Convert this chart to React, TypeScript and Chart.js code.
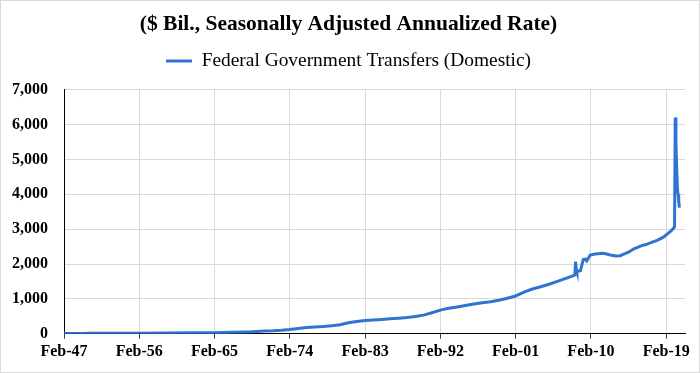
import React, { useEffect, useRef } from "react";
import { Chart, registerables, layouts } from "chart.js";

Chart.register(...registerables);

const titleText = "($ Bil., Seasonally Adjusted Annualized Rate)";
const seriesName = "Federal Government Transfers (Domestic)";

const months = [
  "1947-02", "1949-02", "1950-02", "1953-02", "1956-02", "1959-02", "1962-02", "1965-02",
  "1967-02", "1969-02", "1970-02", "1971-02", "1972-02", "1973-02", "1974-02", "1975-02",
  "1976-02", "1977-02", "1978-02", "1979-02", "1980-02", "1981-02", "1982-02", "1983-02",
  "1984-02", "1985-02", "1986-02", "1987-02", "1988-02", "1989-02", "1990-02", "1991-02",
  "1992-02", "1993-02", "1994-02", "1995-02", "1996-02", "1997-02", "1998-02", "1999-02",
  "2000-02", "2001-02", "2002-02", "2003-02", "2004-02", "2005-02", "2006-02", "2007-02",
  "2008-01", "2008-03", "2008-04", "2008-05", "2008-06", "2008-11", "2009-03", "2009-06",
  "2009-08", "2010-01", "2010-08", "2011-08", "2012-06", "2013-02", "2013-08", "2014-02",
  "2014-08", "2015-03", "2016-02", "2016-09", "2017-06", "2018-01", "2018-10", "2019-06",
  "2019-10", "2020-01", "2020-02", "2020-03", "2020-04", "2020-05", "2020-06", "2020-07",
  "2020-08", "2020-09",
];

const transfers = [
  11, 12, 14, 13, 17, 24, 30, 33,
  42, 55, 64, 78, 86, 100, 122, 155,
  182, 198, 212, 232, 262, 318, 350, 382,
  395, 412, 432, 448, 468, 495, 535, 605,
  680, 735, 770, 810, 855, 890, 922, 960,
  1020, 1085, 1195, 1285, 1350, 1420, 1505, 1590,
  1665, 1690, 2070, 1850, 1780, 1810, 2130, 2140,
  2090, 2260, 2290, 2310, 2260, 2230, 2240, 2290,
  2340, 2430, 2520, 2560, 2630, 2680, 2770, 2900,
  2970, 3040, 3080, 6200, 5500, 4800, 4200, 4000,
  3800, 3620,
];

const tickLabels = [
  "Feb-47", "Feb-56", "Feb-65", "Feb-74", "Feb-83", "Feb-92", "Feb-01", "Feb-10", "Feb-19",
];

const axisStart = "1947-02";
const axisEnd = "2021-05";
const tickStepMonths = 108;

function monthIndex(s: string): number {
  const [y, m] = s.split("-").map(Number);
  const [y0, m0] = axisStart.split("-").map(Number);
  return (y - y0) * 12 + (m - m0);
}

const FONT = "'Liberation Serif', 'Times New Roman', serif";

const spacerPlugin = {
  id: "legendSpacer",
  beforeInit(chart: any) {
    const box: any = {
      id: "legendSpacerBox",
      position: "top",
      weight: 0,
      fullSize: true,
      options: { stackWeight: 1 },
      top: 0,
      left: 0,
      right: 0,
      bottom: 0,
      width: 0,
      height: 0,
      update(maxWidth: number) {
        this.width = maxWidth;
        this.height = 9;
      },
      isHorizontal() {
        return true;
      },
      draw() {},
    };
    layouts.addBox(chart, box);
  },
};

export default function App() {
  const ref = useRef<HTMLCanvasElement | null>(null);

  useEffect(() => {
    document.body.style.margin = "0";
    if (!ref.current) return;
    const points = months.map((m, i) => ({ x: monthIndex(m), y: transfers[i] }));
    const chart = new Chart(ref.current, {
      type: "line",
      data: {
        datasets: [
          {
            label: seriesName,
            data: points,
            borderColor: "#2e74d0",
            backgroundColor: "#2e74d0",
            borderWidth: 3,
            pointRadius: 0,
            tension: 0,
            fill: false,
          },
        ],
      },
      plugins: [spacerPlugin],
      options: {
        responsive: false,
        animation: false,
        devicePixelRatio: 1,
        layout: { padding: { left: 12, right: 15, top: 0, bottom: 9 } },
        plugins: {
          title: {
            display: true,
            text: titleText,
            color: "#000",
            font: { family: FONT, size: 21.5, weight: "bold" },
            padding: { top: 12, bottom: 3.5 },
          },
          legend: {
            display: true,
            position: "top",
            labels: {
              color: "#000",
              font: { family: FONT, size: 19.4 },
              usePointStyle: true,
              pointStyle: "line",
              pointStyleWidth: 26,
              boxHeight: 19,
              padding: 10,
            },
          },
          tooltip: { enabled: false },
        },
        scales: {
          x: {
            type: "linear",
            min: 0,
            max: monthIndex(axisEnd),
            afterBuildTicks: (scale: any) => {
              scale.ticks = tickLabels.map((_, i) => ({ value: i * tickStepMonths }));
            },
            ticks: {
              autoSkip: false,
              maxRotation: 0,
              color: "#000",
              font: { family: FONT, size: 16, weight: "bold" },
              padding: 3,
              callback: (v: any) => {
                const i = Math.round(Number(v) / tickStepMonths);
                return tickLabels[i] ?? "";
              },
            },
            grid: {
              color: "#d9d9d9",
              lineWidth: 1,
              drawTicks: true,
              tickLength: 5,
              tickColor: "#404040",
            },
            border: { color: "#000", width: 1 },
          },
          y: {
            min: 0,
            max: 7000,
            afterFit: (scale: any) => {
              scale.width = 52;
            },
            ticks: {
              stepSize: 1000,
              color: "#000",
              font: { family: FONT, size: 16, weight: "bold" },
              padding: 16,
              callback: (v: any) => Number(v).toLocaleString("en-US"),
            },
            grid: { color: "#d9d9d9", lineWidth: 1, drawTicks: false },
            border: { color: "#000", width: 1 },
          },
        },
      },
    });
    return () => chart.destroy();
  }, []);

  return (
    <div style={{ position: "absolute", left: 0, top: 0, width: 700, height: 373, background: "#fff" }}>
      <canvas ref={ref} width={700} height={373} style={{ display: "block" }} />
      <div
        style={{
          position: "absolute",
          left: 0,
          top: 0,
          width: 700,
          height: 373,
          boxSizing: "border-box",
          border: "1px solid #d9d9d9",
          pointerEvents: "none",
        }}
      />
    </div>
  );
}
